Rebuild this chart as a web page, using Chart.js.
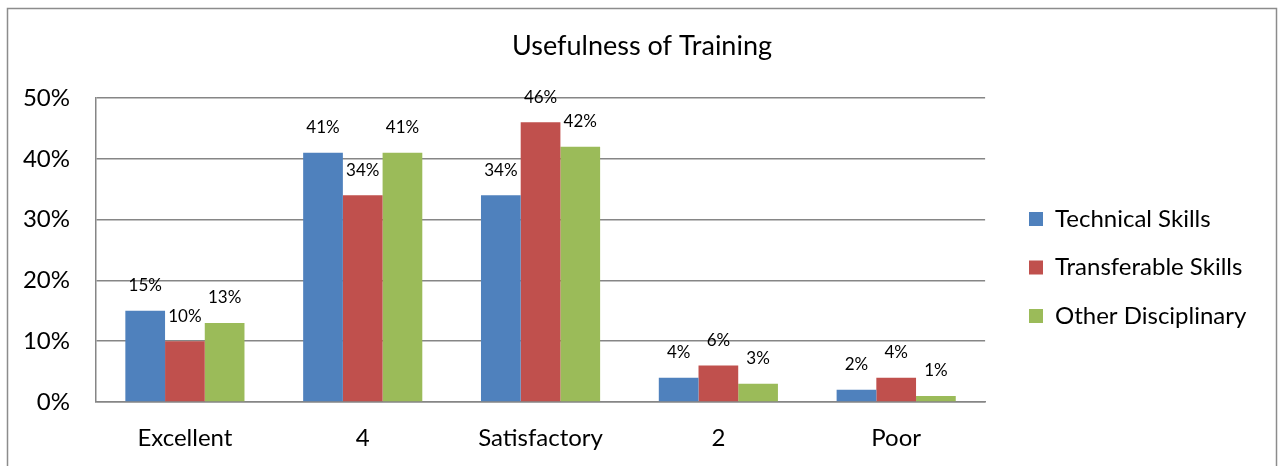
<!DOCTYPE html>
<html>
<head>
<meta charset="utf-8">
<script src="https://cdn.jsdelivr.net/npm/chart.js@4/dist/chart.umd.min.js"></script>
<style>
  html, body { margin: 0; padding: 0; background: #ffffff; }
  #wrap { width: 1281px; height: 466px; position: relative; }
</style>
</head>
<body>
<div id="wrap"><canvas id="chart" width="1281" height="466"></canvas></div>
<script>
// Data
const categories = ['Excellent', '4', 'Satisfactory', '2', 'Poor'];
const technicalSkills = [15, 41, 34, 4, 2];
const transferableSkills = [10, 34, 46, 6, 4];
const otherDisciplinary = [13, 41, 42, 3, 1];

const FONT = 'Lato, "Open Sans", sans-serif';
const GRID = '#868686';
const LEGEND_PAD = 24.5;

// Outer frame around the whole chart
const framePlugin = {
  id: 'frame',
  beforeDraw(chart) {
    const ctx = chart.ctx;
    ctx.save();
    ctx.strokeStyle = '#8c8c8c';
    ctx.lineWidth = 1.5;
    ctx.strokeRect(7.5, 8.5, 1269, 470);
    ctx.restore();
  }
};

// Value labels above each bar
const valueLabels = {
  id: 'valueLabels',
  afterDatasetsDraw(chart) {
    const ctx = chart.ctx;
    ctx.save();
    ctx.font = '17px ' + FONT;
    ctx.fillStyle = '#000000';
    ctx.textAlign = 'center';
    ctx.textBaseline = 'middle';
    chart.data.datasets.forEach((ds, i) => {
      chart.getDatasetMeta(i).data.forEach((bar, j) => {
        ctx.fillText(ds.data[j] + '%', bar.x, bar.y - 25);
      });
    });
    ctx.restore();
  }
};

// Place the legend block and title where the original has them
const blockShift = {
  id: 'blockShift',
  afterLayout(chart) {
    const lg = chart.legend;
    const dx = 1029 - LEGEND_PAD - lg.left;
    lg.left += dx;
    lg.right += dx;
    const colH = lg.columnSizes && lg.columnSizes[0] ? lg.columnSizes[0].height : 145.5;
    const curY = (lg.top + LEGEND_PAD + lg.bottom - colH) / 2;
    const dy = 207 - curY;
    lg.top += dy;
    lg.bottom += dy;

    const tb = chart.titleBlock;
    if (tb) {
      const tx = 642 - (tb.left + tb.right) / 2;
      tb.left += tx;
      tb.right += tx;
    }
  }
};

new Chart(document.getElementById('chart'), {
  type: 'bar',
  data: {
    labels: categories,
    datasets: [
      { label: 'Technical Skills', data: technicalSkills, backgroundColor: '#4F81BD' },
      { label: 'Transferable Skills', data: transferableSkills, backgroundColor: '#C0504D' },
      { label: 'Other Disciplinary', data: otherDisciplinary, backgroundColor: '#9BBB59' }
    ]
  },
  options: {
    responsive: false,
    animation: false,
    layout: { padding: { top: 0, right: 44, bottom: 0, left: 0 } },
    datasets: {
      bar: { categoryPercentage: 0.67, barPercentage: 1.0 }
    },
    scales: {
      x: {
        afterFit(scale) { scale.height = 64; },
        grid: { display: false },
        border: { color: GRID, width: 1.5 },
        ticks: { color: '#000', font: { family: FONT, size: 24 }, padding: 14 }
      },
      y: {
        min: 0,
        max: 50,
        afterFit(scale) { scale.width = 96; },
        grid: { color: GRID, lineWidth: 1.5, drawTicks: false },
        border: { color: GRID, width: 1.5 },
        ticks: {
          stepSize: 10,
          color: '#000',
          font: { family: FONT, size: 24 },
          padding: 26,
          callback: (v) => v + '%'
        }
      }
    },
    plugins: {
      title: {
        display: true,
        text: 'Usefulness of Training',
        color: '#000',
        font: { family: FONT, size: 27, weight: 'normal' },
        padding: { top: 30, bottom: 35.6 }
      },
      legend: {
        position: 'right',
        labels: {
          color: '#000',
          font: { family: FONT, size: 24 },
          boxWidth: 14,
          boxHeight: 14,
          padding: LEGEND_PAD
        }
      },
      tooltip: { enabled: false }
    }
  },
  plugins: [framePlugin, valueLabels, blockShift]
});
</script>
</body>
</html>
